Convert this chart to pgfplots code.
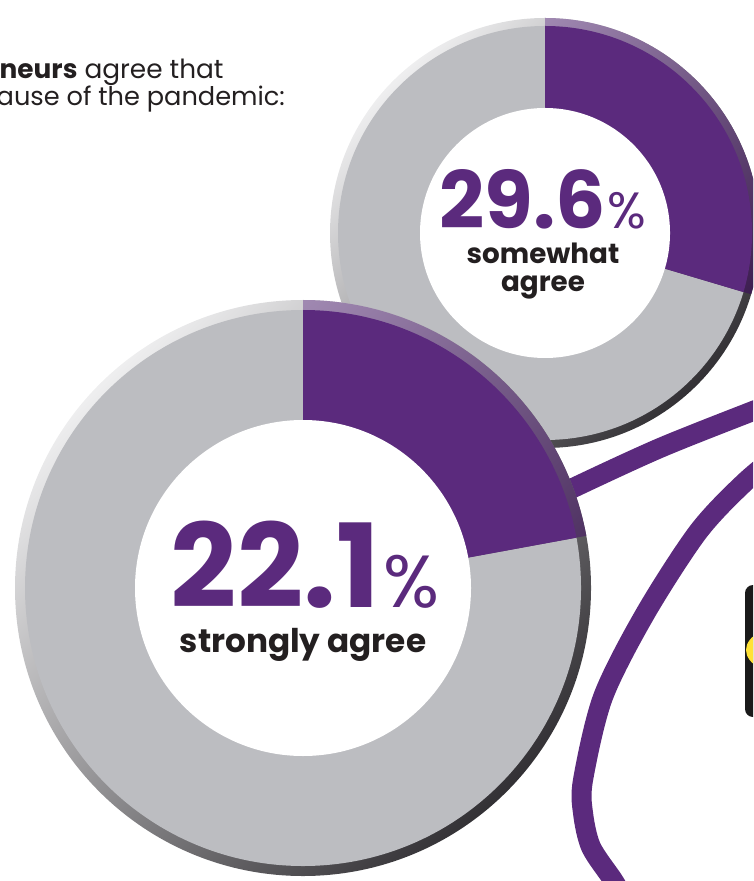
\documentclass[border=0pt]{standalone}
\usepackage{pgfplots}
\pgfplotsset{compat=1.18}
\usepackage{pgfplotstable}
\usepackage{fontspec}
\setmainfont{Poppins}
\definecolor{vpurple}{HTML}{5B2A7D}
\definecolor{vgray}{HTML}{BCBDC1}
\definecolor{vdark}{HTML}{231F20}
\definecolor{rimL}{HTML}{EEEEEF}
\definecolor{rimD}{HTML}{333135}
\definecolor{primL}{HTML}{B29CC3}
\definecolor{primD}{HTML}{351649}
\definecolor{vyellow}{HTML}{FFE236}
\definecolor{vblack}{HTML}{1A1A1A}

\pgfplotstableread{
label value
strongly 22.1
somewhat 29.6
}\donutdata

\newcommand\donut[6]{% #1 cx #2 cy #3 rout #4 rin #5 rout-rim #6 end angle
  \shade[top color=rimL, middle color=vgray, bottom color=rimD, shading angle=45]
    (axis cs:#1,#2) circle[radius=#3cm];
  \fill[vgray] (axis cs:#1,#2) circle[radius=#5cm];
  \begin{scope}
    \clip (axis cs:#1,#2) -- ++(90:#3cm+0.2cm) arc[start angle=90, end angle=#6, radius=#3cm+0.2cm] -- cycle;
    \shade[top color=primL, middle color=vpurple, bottom color=primD, shading angle=45]
      (axis cs:#1,#2) circle[radius=#3cm];
    \fill[vpurple] (axis cs:#1,#2) circle[radius=#5cm];
  \end{scope}
  \fill[white] (axis cs:#1,#2) circle[radius=#4cm];
}

\begin{document}
\begin{tikzpicture}
\path[use as bounding box, clip] (0,0) rectangle (7.53,8.81);
\pgfplotstablegetelem{0}{value}\of\donutdata \pgfmathsetmacro\angA{90-3.6*\pgfplotsretval}
\pgfplotstablegetelem{1}{value}\of\donutdata \pgfmathsetmacro\angB{90-3.6*\pgfplotsretval}
\begin{axis}[at={(0,0)}, anchor=south west, scale only axis,
  width=7.53cm, height=8.81cm, xmin=0, xmax=753, ymin=0, ymax=881,
  y dir=reverse, hide axis, clip=false]

% connector lines
\addplot[vpurple, line width=0.2cm, smooth, no marks] coordinates {
 (540,505) (573,488) (660,448) (753,411) (790,397)};
\addplot[vpurple, line width=0.2cm, smooth, no marks] coordinates {
 (790,445) (745,482) (698,532) (645,614) (603,697) (583,780) (583,813) (591,847) (613,880) (625,900)};

% black box at right
\fill[vblack, rounded corners=0.08cm] (axis cs:745,585) rectangle (axis cs:820,717);
\fill[vyellow] (axis cs:790,650) ellipse[x radius=0.44cm, y radius=0.25cm];

% small donut
\donut{545}{233}{2.15}{1.25}{2.07}{\angB}
% big donut
\donut{303}{588}{2.88}{1.68}{2.78}{\angA}

% texts
\node[anchor=base west, text=vdark, font=\fontsize{7.5}{8}\selectfont, inner sep=0pt]
  at (axis cs:-1,79) {\textbf{neurs} agree that};
\node[anchor=base west, text=vdark, font=\fontsize{7.3}{8}\selectfont, inner sep=0pt]
  at (axis cs:-4,106) {ause of the pandemic:};

\node[anchor=base, text=vpurple, font=\bfseries\fontsize{33}{33}\selectfont, inner sep=0pt]
  at (axis cs:305,607) {22.1\kern1pt{\mdseries\fontsize{21}{21}\selectfont\%}};
\node[anchor=base, text=vdark, font=\bfseries\fontsize{9.3}{10}\selectfont, inner sep=0pt]
  at (axis cs:303,652) {strongly agree};

\node[anchor=base, text=vpurple, font=\bfseries\fontsize{22.5}{23}\selectfont, inner sep=0pt]
  at (axis cs:543,229) {29.6\kern0.6pt{\mdseries\fontsize{14.5}{14.5}\selectfont\%}};
\node[anchor=base, text=vdark, font=\bfseries\fontsize{7.9}{9}\selectfont, inner sep=0pt]
  at (axis cs:543,264) {somewhat};
\node[anchor=base, text=vdark, font=\bfseries\fontsize{7.9}{9}\selectfont, inner sep=0pt]
  at (axis cs:543,292) {agree};
\end{axis}
\end{tikzpicture}
\end{document}
